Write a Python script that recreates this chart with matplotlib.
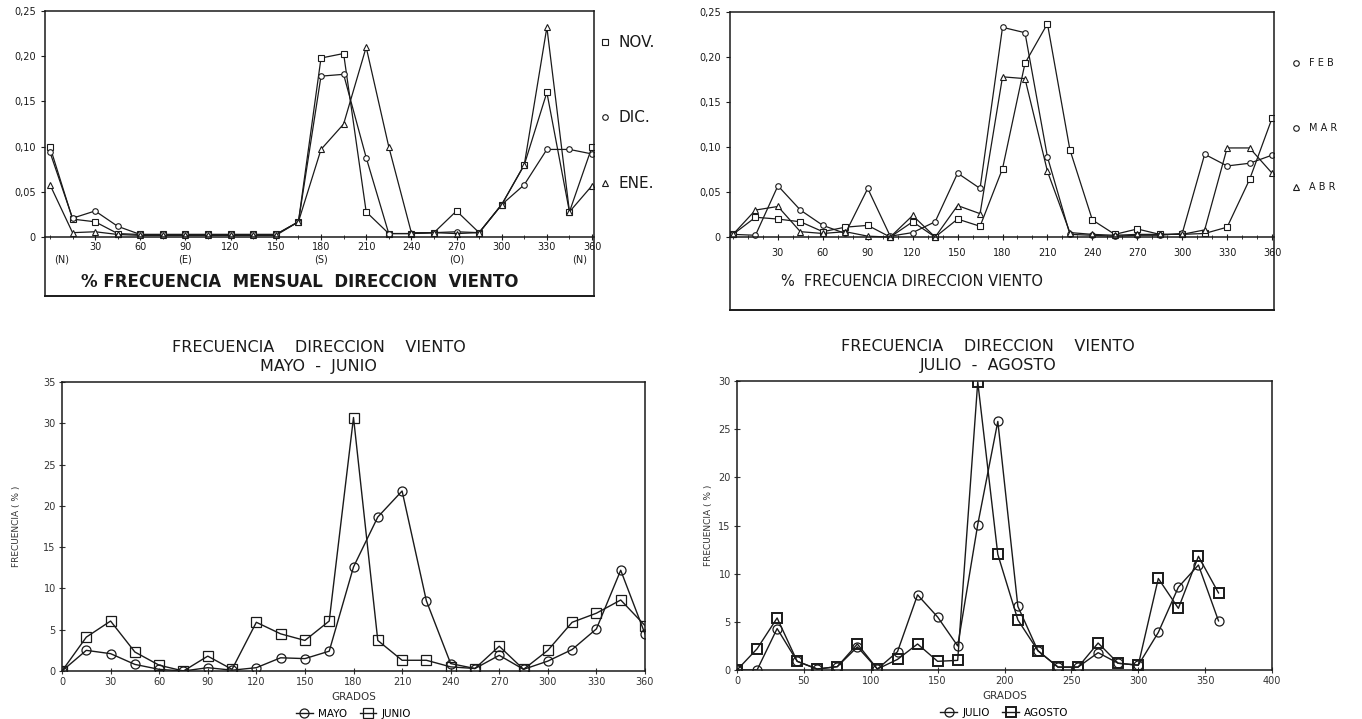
import numpy as np
import matplotlib.pyplot as plt

plt.rcParams['font.family'] = ['DejaVu Sans']

# direcciones (grados), cada 15
grados = [0, 15, 30, 45, 60, 75, 90, 105, 120, 135, 150, 165, 180,
          195, 210, 225, 240, 255, 270, 285, 300, 315, 330, 345, 360]

# panel 1: NOV / DIC / ENE (frecuencia relativa)
nov = [0.100, 0.020, 0.017, 0.004, 0.003, 0.003, 0.003, 0.003, 0.003, 0.003, 0.003, 0.017, 0.198,
       0.203, 0.028, 0.004, 0.004, 0.005, 0.029, 0.005, 0.036, 0.080, 0.160, 0.028, 0.100]
dic = [0.094, 0.021, 0.029, 0.012, 0.003, 0.003, 0.003, 0.003, 0.003, 0.003, 0.003, 0.017, 0.178,
       0.180, 0.088, 0.004, 0.004, 0.005, 0.006, 0.005, 0.036, 0.058, 0.097, 0.097, 0.092]
ene = [0.058, 0.005, 0.006, 0.003, 0.002, 0.002, 0.002, 0.002, 0.002, 0.002, 0.002, 0.017, 0.097,
       0.125, 0.210, 0.100, 0.005, 0.005, 0.004, 0.005, 0.036, 0.080, 0.232, 0.028, 0.057]

# panel 2: FEB / MAR / ABR
feb = [0.003, 0.022, 0.020, 0.017, 0.006, 0.011, 0.013, 0.000, 0.017, 0.000, 0.020, 0.012, 0.076,
       0.193, 0.237, 0.097, 0.019, 0.003, 0.009, 0.003, 0.003, 0.004, 0.011, 0.064, 0.132]
mar = [0.003, 0.002, 0.057, 0.030, 0.013, 0.004, 0.054, 0.001, 0.005, 0.017, 0.071, 0.054, 0.233,
       0.227, 0.089, 0.003, 0.002, 0.001, 0.002, 0.002, 0.004, 0.092, 0.079, 0.082, 0.091]
abr = [0.003, 0.030, 0.034, 0.006, 0.004, 0.006, 0.001, 0.000, 0.024, 0.000, 0.035, 0.026, 0.178,
       0.176, 0.073, 0.005, 0.003, 0.002, 0.003, 0.003, 0.003, 0.008, 0.099, 0.099, 0.071]

# panel 3: MAYO / JUNIO (%)
mayo = [0, 2.5, 2.1, 0.8, 0.2, 0, 0.4, 0.1, 0.4, 1.6, 1.5, 2.4, 12.6,
        18.65, 21.8, 8.5, 0.9, 0.3, 1.9, 0.2, 1.2, 2.6, 5.1, 12.2, 4.5]
junio = [0, 4.1, 6.05, 2.3, 0.7, 0, 1.8, 0.2, 5.9, 4.5, 3.7, 6.05, 30.7,
         3.7, 1.3, 1.3, 0.5, 0.3, 3.0, 0.2, 2.5, 5.9, 7.0, 8.6, 5.5]

# panel 4: JULIO / AGOSTO (%)
julio = [0, 0, 4.3, 0.9, 0.1, 0.35, 2.4, 0.1, 1.9, 7.8, 5.5, 2.5, 15.1,
         25.8, 6.6, 2.0, 0.3, 0.3, 1.8, 0.7, 0.5, 3.9, 8.6, 10.9, 5.1]
agosto = [0, 2.2, 5.4, 0.9, 0.1, 0.35, 2.7, 0.1, 1.1, 2.7, 0.9, 1.0, 29.9,
          12.0, 5.2, 2.0, 0.3, 0.3, 2.8, 0.7, 0.5, 9.5, 6.4, 11.8, 8.0]

ticks_top = [30, 60, 90, 120, 150, 180, 210, 240, 270, 300, 330, 360]
yticks_top = [0, 0.05, 0.10, 0.15, 0.20, 0.25]
ylabels_top = ['0', '0,05', '0,10', '0,15', '0,20', '0,25']
puntos = [(8, '(N)'), (90, '(E)'), (180, '(S)'), (270, '(O)'), (352, '(N)')]

INK = '#1a1a1a'
W, H = 1362, 719
fig = plt.figure(figsize=(W / 100, H / 100), dpi=100)


def px_axes(l, t, r, b):
    return fig.add_axes([l / W, 1 - b / H, (r - l) / W, (b - t) / H])


def top_panel(ax, series, xlim, ylim, title, bold, legend, leg_x, leg_fs, lab_pad):
    for vals, m in series:
        ax.plot(grados, vals, color=INK, lw=0.9, marker=m, ms=4,
                mfc='white', mec=INK, mew=0.8)
    ax.set_xlim(*xlim)
    ax.set_ylim(*ylim)
    ax.spines['bottom'].set_position(('data', 0))
    for s in ax.spines.values():
        s.set_color(INK)
        s.set_linewidth(1.1)
    ax.plot([0, 1], [0, 0], transform=ax.transAxes, color=INK, lw=1.4, clip_on=False)
    ax.set_xticks(ticks_top)
    ax.set_xticks(range(0, 361, 15), minor=True)
    ax.tick_params(axis='x', which='both', direction='inout', length=4,
                   labelsize=7, pad=lab_pad, colors=INK)
    ax.tick_params(axis='x', which='minor', length=3)
    ax.set_yticks(yticks_top)
    ax.set_yticklabels(ylabels_top)
    ax.tick_params(axis='y', direction='out', length=3, labelsize=7, colors=INK)
    ax.text(title[1], title[2], title[0], transform=ax.transAxes, ha='center', va='center',
            fontsize=title[3], fontweight='bold' if bold else 'normal', color=INK)
    for (m, lbl, y) in legend:
        ax.plot([leg_x], [y], marker=m, ms=4, mfc='white', mec=INK, mew=0.8,
                transform=ax.transAxes, clip_on=False)
        ax.text(leg_x + 0.025, y, lbl, transform=ax.transAxes, va='center',
                fontsize=leg_fs, color=INK)


# ---- panel 1
ax1 = px_axes(45, 11, 594, 296)
top_panel(ax1, [(nov, 's'), (dic, 'o'), (ene, '^')], (-3.3, 361.3), (-0.065, 0.25),
          ('% FRECUENCIA  MENSUAL  DIRECCION  VIENTO', 0.464, 0.05, 12), True,
          [('s', 'NOV.', 0.891), ('o', 'DIC.', 0.628), ('^', 'ENE.', 0.396)],
          1.02, 11, 1.5)
for x, lbl in puntos:
    ax1.text(x, -0.025, lbl, ha='center', va='center', fontsize=7, color=INK)

# ---- panel 2
ax2 = px_axes(730, 12, 1274, 310)
top_panel(ax2, [(feb, 's'), (mar, 'o'), (abr, '^')], (-2, 361.3), (-0.081, 0.25),
          ('%  FRECUENCIA DIRECCION VIENTO', 0.335, 0.097, 10.5), False,
          [('o', 'F E B', 0.829), ('o', 'M A R', 0.611), ('^', 'A B R', 0.413)],
          1.04, 7, 6)
ax2.set_xticks(range(0, 361, 10), minor=True)


# ---- bottom panels
def bottom_panel(ax, s1, s2, xlim, ylim, xt, t2, tx, ylx):
    (v1, m1, n1, e1), (v2, m2, n2, e2) = s1, s2
    ax.plot(grados, v1, color=INK, lw=1.0, marker=m1, ms=6.5, mfc='none', mec=INK, mew=e1, label=n1)
    ax.plot(grados, v2, color=INK, lw=1.0, marker=m2, ms=6.5, mfc='none', mec=INK, mew=e2, label=n2)
    ax.set_xlim(*xlim)
    ax.set_ylim(*ylim)
    ax.set_xticks(xt)
    ax.set_yticks(range(0, ylim[1] + 1, 5))
    for s in ax.spines.values():
        s.set_color(INK)
        s.set_linewidth(1.1)
    ax.tick_params(direction='inout', length=5, labelsize=7, colors='#333333', pad=2)
    ax.text(ylx, 0.5, 'FRECUENCIA ( % )', rotation=90,
            transform=ax.transAxes, ha='center', va='center', fontsize=6.5, color='#333333')
    ax.text(0.5, -0.09, 'GRADOS', transform=ax.transAxes, ha='center', va='center',
            fontsize=7.5, color='#333333')
    ax.text(tx, 1.121, 'FRECUENCIA    DIRECCION    VIENTO', transform=ax.transAxes,
            ha='center', va='center', fontsize=11.5, color=INK)
    ax.text(tx, 1.055, t2, transform=ax.transAxes, ha='center', va='center',
            fontsize=11.5, color=INK)
    ax.legend(loc='upper center', bbox_to_anchor=(0.5, -0.11), ncol=2, frameon=False,
              handlelength=1.6, fontsize=7.5, columnspacing=1.2, handletextpad=0.5,
              borderpad=0.1)


ax3 = px_axes(62, 382, 645, 671)
bottom_panel(ax3, (mayo, 'o', 'MAYO', 0.9), (junio, 's', 'JUNIO', 0.9),
             (0, 360), (0, 35), list(range(0, 361, 30)), 'MAYO  -  JUNIO', 0.44, -0.078)

ax4 = px_axes(737, 381, 1272, 670)
bottom_panel(ax4, (julio, 'o', 'JULIO', 0.9), (agosto, 's', 'AGOSTO', 1.4),
             (0, 400), (0, 30), list(range(0, 401, 50)), 'JULIO  -  AGOSTO', 0.469, -0.054)

plt.savefig('out.png', dpi=100)
